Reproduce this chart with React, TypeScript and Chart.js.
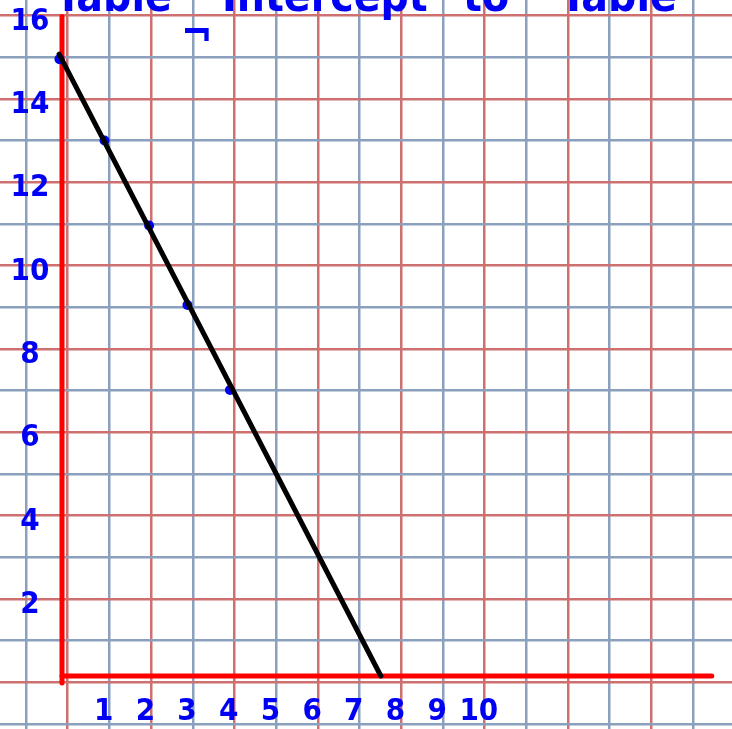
import React, { useEffect, useRef } from "react";
import { Chart, registerables } from "chart.js";

Chart.register(...registerables);

// Plotted points of the table (x, y)
const pointX = [-0.06, 1.02, 2.09, 3.01, 4.03];
const pointY = [14.8, 12.85, 10.81, 8.9, 6.86];

// Straight line drawn through the points down to the x-intercept
const lineX = [-0.07, 7.65];
const lineY = [14.92, 0];

// Axis label values
const xLabelValues = [1, 2, 3, 4, 5, 6, 7, 8, 9, 10];
const yLabelValues = [16, 14, 12, 10, 8, 6, 4, 2];

// Heading words written across the top
const headingWords = ["Table", "Intercept", "to", "Table"];

const UNIT = 41.68; // pixels per grid square
const W = 732;
const H = 729;
const ORIGIN_X = 62; // where the hand-drawn y-axis sits
const ORIGIN_Y = 676; // where the hand-drawn x-axis sits

const GRID_X_SHIFT = -0.863;
const GRID_Y_TOP = 15.846;

const BLUE_GRID = "rgb(138,160,188)";
const RED_GRID = "rgb(206,112,112)";
const INK = "rgb(0,0,245)";

const gridX = Array.from({ length: 17 }, (_, k) => k + GRID_X_SHIFT);
const gridY = Array.from({ length: 18 }, (_, k) => GRID_Y_TOP - k);

const handFont = '"Liberation Sans Narrow", "DejaVu Sans Condensed", "DejaVu Sans", sans-serif';

const labelPlugin = {
  id: "handLabels",
  afterDatasetsDraw(chart: any) {
    const { ctx, scales } = chart;
    const xs = scales.x;
    const ys = scales.y;
    ctx.save();
    ctx.fillStyle = INK;
    ctx.textAlign = "center";
    ctx.textBaseline = "middle";
    ctx.font = `bold 31px ${handFont}`;
    xLabelValues.forEach((v) => {
      ctx.fillText(String(v), xs.getPixelForValue(v), ys.getPixelForValue(-0.86));
    });
    yLabelValues.forEach((v) => {
      ctx.fillText(String(v), xs.getPixelForValue(-0.77), ys.getPixelForValue(v - 0.3));
    });
    // heading, mostly running off the top edge
    ctx.textAlign = "left";
    ctx.textBaseline = "alphabetic";
    ctx.font = `bold 44px ${handFont}`;
    const starts = [55, 222, 463, 560];
    headingWords.forEach((w, i) => {
      ctx.fillText(w, starts[i], 11);
    });
    ctx.font = `bold 42px ${handFont}`;
    ctx.fillText("¬", 181, 47);
    ctx.restore();
  },
};

export default function App() {
  const ref = useRef<HTMLCanvasElement | null>(null);

  useEffect(() => {
    if (!ref.current) return;
    const chart = new Chart(ref.current, {
      type: "scatter",
      data: {
        datasets: [
          {
            label: "line",
            data: lineX.map((x, i) => ({ x, y: lineY[i] })),
            showLine: true,
            borderColor: "#000000",
            borderWidth: 5,
            borderCapStyle: "round",
            pointRadius: 0,
            order: 0,
          },
          {
            label: "points",
            data: pointX.map((x, i) => ({ x, y: pointY[i] })),
            showLine: false,
            pointRadius: 5,
            pointBorderWidth: 0,
            pointBackgroundColor: INK,
            order: 1,
          },
          {
            label: "y-axis",
            data: [
              { x: 0, y: 15.82 },
              { x: 0, y: -0.17 },
            ],
            showLine: true,
            borderColor: "rgb(255,0,0)",
            borderWidth: 5,
            borderCapStyle: "round",
            pointRadius: 0,
            order: 2,
          },
          {
            label: "x-axis",
            data: [
              { x: 0, y: 0 },
              { x: 15.59, y: 0 },
            ],
            showLine: true,
            borderColor: "rgb(255,0,0)",
            borderWidth: 5,
            borderCapStyle: "round",
            pointRadius: 0,
            order: 2,
          },
        ],
      },
      options: {
        responsive: false,
        animation: false,
        devicePixelRatio: 1,
        layout: { padding: 0, autoPadding: false },
        plugins: {
          legend: { display: false },
          tooltip: { enabled: false },
        },
        scales: {
          x: {
            type: "linear",
            min: -ORIGIN_X / UNIT,
            max: (W - ORIGIN_X) / UNIT,
            afterBuildTicks: (s: any) => {
              s.ticks = gridX.map((v) => ({ value: v }));
            },
            ticks: { display: false },
            border: { display: false },
            grid: {
              drawTicks: false,
              lineWidth: 2.5,
              color: (c: any) =>
                Math.round(c.tick.value - GRID_X_SHIFT) % 2 === 0 ? BLUE_GRID : RED_GRID,
            },
          },
          y: {
            type: "linear",
            min: -(H - ORIGIN_Y) / UNIT,
            max: ORIGIN_Y / UNIT,
            afterBuildTicks: (s: any) => {
              s.ticks = gridY.map((v) => ({ value: v }));
            },
            ticks: { display: false },
            border: { display: false },
            grid: {
              drawTicks: false,
              lineWidth: 2.5,
              color: (c: any) =>
                Math.round(GRID_Y_TOP - c.tick.value) % 2 === 0 ? RED_GRID : BLUE_GRID,
            },
          },
        },
      },
      plugins: [labelPlugin],
    } as any);
    return () => chart.destroy();
  }, []);

  return (
    <div
      style={{
        position: "fixed",
        left: 0,
        top: 0,
        width: W,
        height: H,
        background: "#ffffff",
      }}
    >
      <canvas ref={ref} width={W} height={H} style={{ display: "block" }} />
    </div>
  );
}
